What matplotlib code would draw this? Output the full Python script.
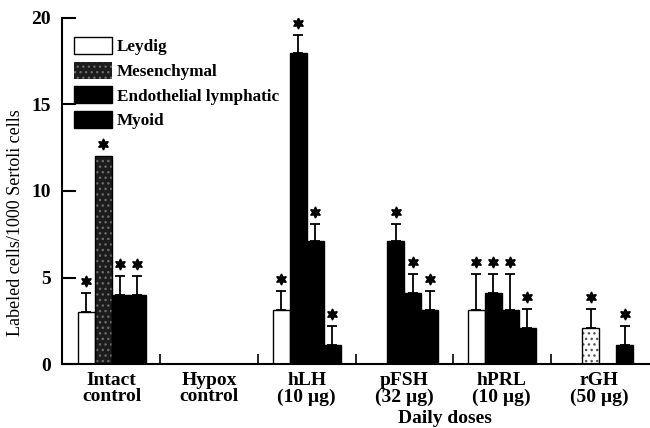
import numpy as np
import matplotlib
matplotlib.use('Agg')
import matplotlib.pyplot as plt
from matplotlib.patches import Patch

plt.rcParams['font.family'] = ['Liberation Serif', 'DejaVu Serif']
plt.rcParams['font.weight'] = 'bold'
plt.rcParams['hatch.linewidth'] = 1.0

# data
groups = ['Intact\ncontrol', 'Hypox\ncontrol', 'hLH\n(10 µg)', 'pFSH\n(32 µg)',
          'hPRL\n(10 µg)', 'rGH\n(50 µg)']
series = ['Leydig', 'Mesenchymal', 'Endothelial lymphatic', 'Myoid']
leydig = [3.0, 0, 3.1, 0, 3.1, 0]
leydig_err = [1.1, 0, 1.1, 0, 2.1, 0]
mesenchymal = [12.0, 0, 18.0, 7.1, 4.1, 2.1]
mesenchymal_err = [0, 0, 1.0, 1.0, 1.1, 1.1]
endothelial = [4.0, 0, 7.1, 4.1, 3.1, 0]
endothelial_err = [1.1, 0, 1.0, 1.1, 2.1, 0]
myoid = [4.0, 0, 1.1, 3.1, 2.1, 1.1]
myoid_err = [1.1, 0, 1.1, 1.1, 1.1, 1.1]

values = [leydig, mesenchymal, endothelial, myoid]
errors = [leydig_err, mesenchymal_err, endothelial_err, myoid_err]

# per-series look (mesenchymal bars came out differently per group in the print)
face = [['white'] * 6,
        ['#1c1c1c', 'black', 'black', 'black', 'black', 'white'],
        ['black'] * 6,
        ['black'] * 6]
hatch_col = [None, ['#6a6a6a', None, None, None, None, '#555555'], None, None]

fig = plt.figure(figsize=(6.5, 4.28), dpi=100)
ax = fig.add_axes([0.0954, 0.1495, 0.9046, 0.8085])

x = np.arange(len(groups))
w = 0.175
for k in range(4):
    xs = x + (k - 1.5) * w
    vals = np.array(values[k], dtype=float)
    errs = np.array(errors[k], dtype=float)
    for i in range(len(groups)):
        if vals[i] <= 0:
            continue
        hc = hatch_col[k][i] if hatch_col[k] is not None else None
        if hc is not None:
            ax.bar(xs[i], vals[i], w, color=face[k][i], edgecolor=hc,
                   hatch='...', linewidth=0, zorder=2)
        else:
            ax.bar(xs[i], vals[i], w, color=face[k][i], linewidth=0, zorder=2)
        ax.bar(xs[i], vals[i], w, fill=False, edgecolor='black',
               linewidth=1.0, zorder=3)
        if errs[i] > 0:
            ax.errorbar(xs[i], vals[i], yerr=[[0], [errs[i]]], fmt='none',
                        ecolor='black', elinewidth=1.3, capsize=3.5,
                        capthick=1.3, zorder=1)
        ax.plot(xs[i], vals[i] + errs[i] + 0.7, marker=(6, 1, 0),
                markersize=8, color='black', linestyle='none')

ax.set_xlim(-0.51, 5.52)
ax.set_ylim(0, 20)
ax.set_yticks([0, 5, 10, 15, 20])
ax.tick_params(axis='y', direction='in', length=10, width=1.5, pad=8,
               labelsize=14)
ax.set_xticks(x)
ax.set_xticklabels(groups, fontsize=14, linespacing=0.92)
ax.tick_params(axis='x', length=0, pad=6)
ax.set_xticks(np.arange(0.5, 5, 1), minor=True)
ax.tick_params(axis='x', which='minor', direction='in', length=7, width=1.2)

for s in ['top', 'right']:
    ax.spines[s].set_visible(False)
ax.spines['left'].set_linewidth(1.5)
ax.spines['bottom'].set_linewidth(1.5)

ax.set_ylabel('Labeled cells/1000 Sertoli cells', fontsize=13)
ax.yaxis.set_label_coords(-0.064, 0.41)

fig.text(0.685, 0.022, 'Daily doses', ha='center', va='center', fontsize=14)

handles = [Patch(facecolor='white', edgecolor='black', linewidth=1.0),
           Patch(facecolor='#1c1c1c', edgecolor='#6a6a6a', hatch='...',
                 linewidth=0),
           Patch(facecolor='black', edgecolor='black'),
           Patch(facecolor='black', edgecolor='black')]
ax.legend(handles, series, loc='upper left', bbox_to_anchor=(0.0, 0.98),
          frameon=False, fontsize=12.3, handlelength=2.2, handleheight=1.15,
          labelspacing=0.38, handletextpad=0.3, borderaxespad=0.3)

plt.savefig('out.png', dpi=100)
plt.close()
